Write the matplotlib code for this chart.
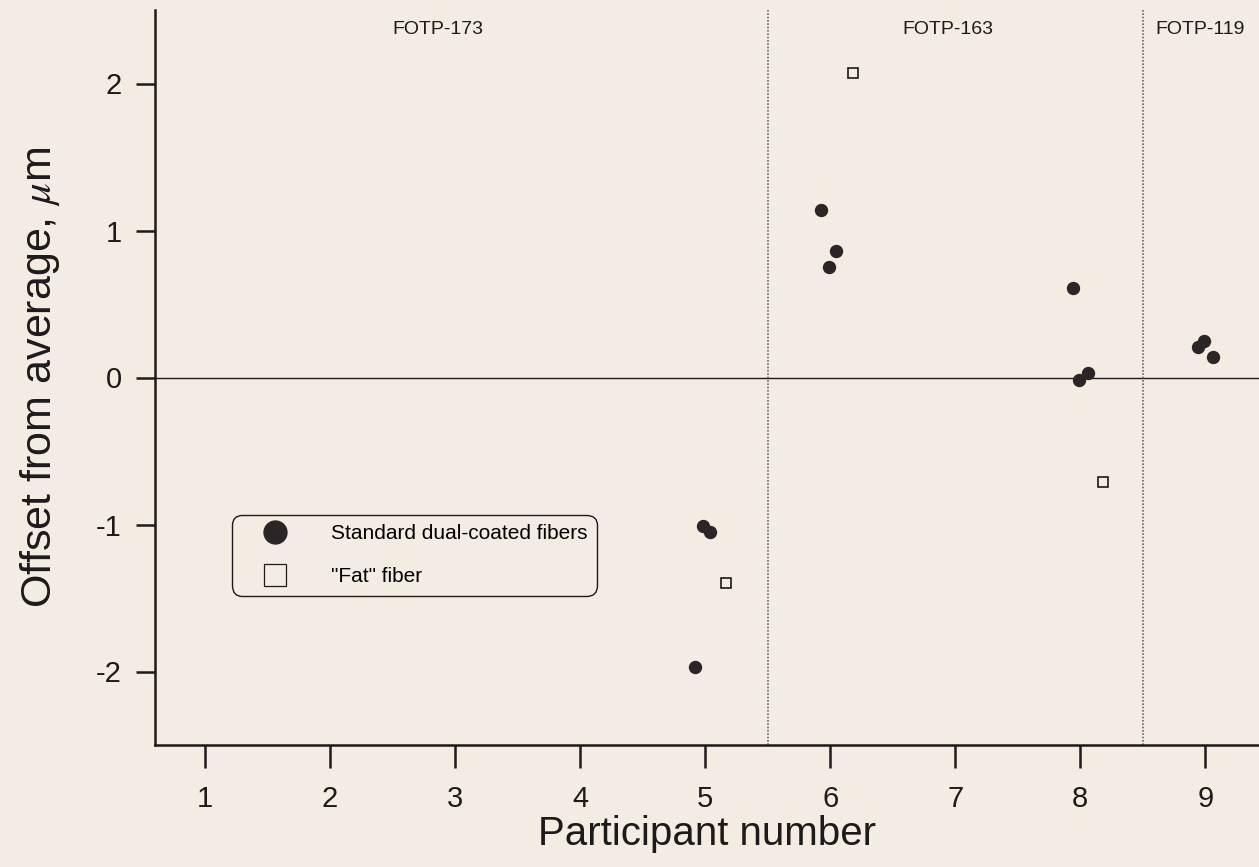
import numpy as np
import matplotlib
matplotlib.use("Agg")
from matplotlib import pyplot as plt
from matplotlib.lines import Line2D

# offsets from average (um)
std_x = [4.92, 4.98, 5.04, 5.93, 5.99, 6.05, 7.94, 7.99, 8.06, 8.94, 8.99, 9.06]
std_y = [-1.97, -1.01, -1.05, 1.14, 0.75, 0.86, 0.61, -0.02, 0.03, 0.21, 0.25, 0.14]
fat_x = [5.17, 6.18, 8.18]
fat_y = [-1.40, 2.07, -0.71]

participants = [1, 2, 3, 4, 5, 6, 7, 8, 9]
groups = ["FOTP-173", "FOTP-163", "FOTP-119"]
group_x = [2.50, 6.58, 8.60]
group_edges = [5.5, 8.5]

bg = "#f3ece2"
ink = "#1c1a1a"

plt.rcParams['font.family'] = ['Liberation Sans', 'DejaVu Sans']
plt.rcParams['mathtext.fontset'] = 'stix'
plt.rcParams['axes.unicode_minus'] = False

fig = plt.figure(figsize=(12.59, 8.67), dpi=100, facecolor=bg)
ax = fig.add_axes([155/1259, 1-745/867, (1259-155)/1259, (745-10)/867])
ax.set_facecolor(bg)

ax.axhline(0, color=ink, lw=1.0, zorder=1)
for e in group_edges:
	ax.axvline(e, color="#666666", lw=1.2, ls=(0, (1, 1)), zorder=1)

ax.plot(std_x, std_y, ls='', marker='o', ms=8.6, color="#2a2628", mec="#2a2628", zorder=3)
ax.plot(fat_x, fat_y, ls='', marker='s', ms=7, mfc='none', mec=ink, mew=1.2, zorder=3)

for g, gx in zip(groups, group_x):
	ax.text(gx, 2.37, g, fontsize=14, color=ink, ha='left', va='center')

ax.set_xlim(0.6, 9.43)
ax.set_ylim(-2.5, 2.5)
ax.set_xticks(participants)
ax.set_yticks([-2, -1, 0, 1, 2])

for s in ['top', 'right']:
	ax.spines[s].set_visible(False)
for s in ['left', 'bottom']:
	ax.spines[s].set_linewidth(1.8)
	ax.spines[s].set_color(ink)

ax.tick_params(axis='x', direction='out', length=16.5, width=1.8, pad=12, labelsize=21, colors=ink)
ax.tick_params(axis='y', direction='out', length=14, width=1.8, pad=10, labelsize=21, colors=ink)

ax.set_xlabel('Participant number', fontsize=29, color=ink, labelpad=2)
ax.set_ylabel(r'Offset from average, $\mu$m', fontsize=31, color=ink, labelpad=24)

handles = [
	Line2D([], [], ls='', marker='o', ms=16.5, color="#2a2628"),
	Line2D([], [], ls='', marker='s', ms=16.5, mfc='none', mec=ink, mew=0.9),
]
leg = ax.legend(handles, ['Standard dual-coated fibers', '"Fat" fiber'],
	loc='upper left', bbox_to_anchor=(0.0697, 0.313), borderaxespad=0,
	fontsize=15, borderpad=0.45, handlelength=3.2, handletextpad=1.1,
	labelspacing=1.15, frameon=True, fancybox=True)
frame = leg.get_frame()
frame.set_boxstyle('round', pad=0, rounding_size=0.5)
frame.set_edgecolor(ink)
frame.set_linewidth(1.0)
frame.set_facecolor(bg)
frame.set_alpha(1)

fig.savefig('out.png', dpi=100, facecolor=bg)
